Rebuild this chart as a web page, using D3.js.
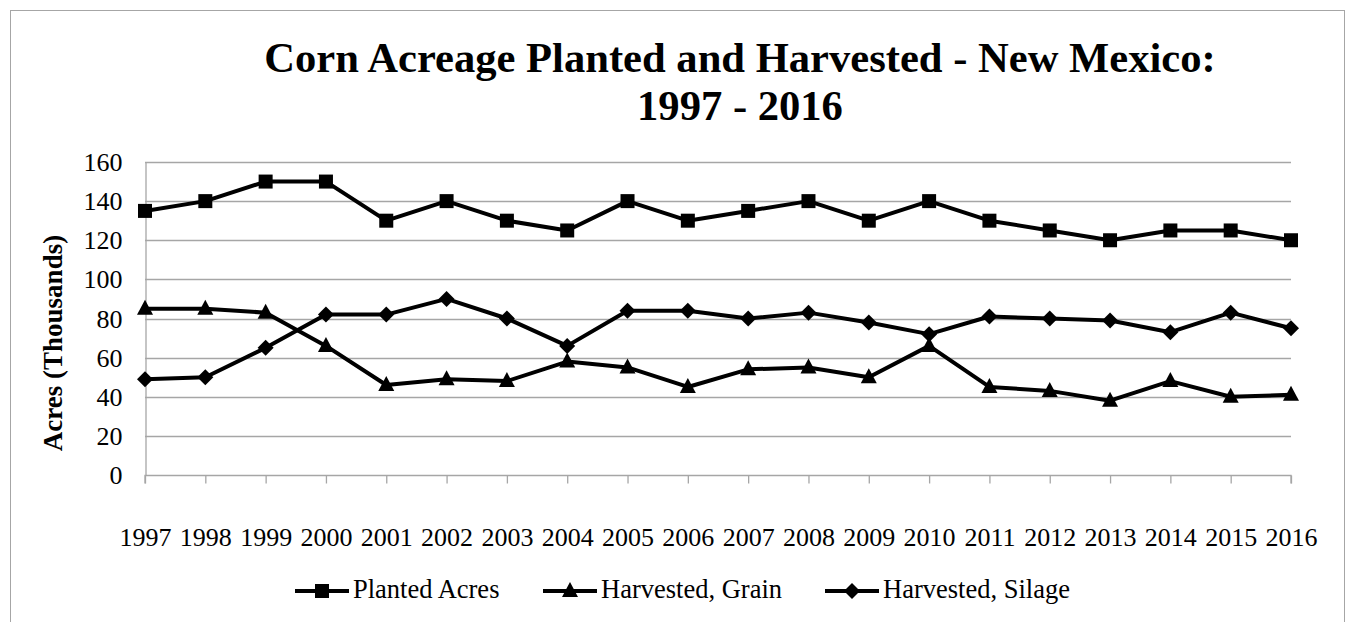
<!DOCTYPE html>
<html><head><meta charset="utf-8">
<script src="https://cdn.jsdelivr.net/npm/d3@7"></script>
<style>html,body{margin:0;padding:0;background:#fff;}svg{display:block;}</style>
</head><body>
<svg id="chart" width="1349" height="622"></svg>
<script>
const years = ["1997","1998","1999","2000","2001","2002","2003","2004","2005","2006","2007","2008","2009","2010","2011","2012","2013","2014","2015","2016"];
const planted = [135,140,150,150,130,140,130,125,140,130,135,140,130,140,130,125,120,125,125,120];
const grain   = [85,85,83,66,46,49,48,58,55,45,54,55,50,66,45,43,38,48,40,41];
const silage  = [49,50,65,82,82,90,80,66,84,84,80,83,78,72,81,80,79,73,83,75];
const yTicks = [0,20,40,60,80,100,120,140,160];
const seriesNames = ["Planted Acres","Harvested, Grain","Harvested, Silage"];
const markerTypes = ["square","triangle","diamond"];

const svg = d3.select("#chart");
const FONT = "'Liberation Serif','Times New Roman',serif";
const L = 145, R = 1291, T = 162, B = 475;

svg.append("rect").attr("x",10.5).attr("y",10.5).attr("width",1334).attr("height",700)
  .attr("fill","#fff").attr("stroke","#a6a6a6").attr("stroke-width",1);

const x = d3.scalePoint().domain(years).range([L,R]);
const y = d3.scaleLinear().domain([0,160]).range([B,T]);

// gridlines
svg.append("g").selectAll("line").data(yTicks.filter(d=>d>0)).join("line")
  .attr("x1",L).attr("x2",R).attr("y1",d=>Math.round(y(d))+0.5).attr("y2",d=>Math.round(y(d))+0.5)
  .attr("stroke","#a6a6a6").attr("stroke-width",1.3);

// y axis
const yAxis = d3.axisLeft(y).tickValues(yTicks).tickSize(0).tickPadding(23);
const gy = svg.append("g").attr("transform",`translate(${L+0.5},0)`).call(yAxis);
gy.select(".domain").attr("stroke","#a6a6a6").attr("stroke-width",1.3);
gy.selectAll("text").attr("font-family",FONT).attr("font-size",26).attr("fill","#000").attr("dy","0.33em");

// x axis
const xAxis = d3.axisBottom(x).tickSize(8).tickPadding(44);
const gx = svg.append("g").attr("transform",`translate(0,${Math.round(B)+0.5})`).call(xAxis);
gx.select(".domain").attr("stroke","#a6a6a6").attr("stroke-width",1.3).attr("d",`M${L},8V0H${R}V8`);
gx.selectAll(".tick line").attr("stroke","#a6a6a6").attr("stroke-width",1.3);
gx.selectAll("text").attr("font-family",FONT).attr("font-size",26).attr("fill","#000");

// title
const title = svg.append("text").attr("x",740).attr("text-anchor","middle")
  .attr("font-family",FONT).attr("font-weight","bold").attr("font-size",42.6).attr("fill","#000");
title.append("tspan").attr("x",740).attr("y",72).text("Corn Acreage Planted and Harvested - New Mexico:");
title.append("tspan").attr("x",740).attr("y",120).text("1997 - 2016");

// y label
svg.append("text").attr("transform","translate(62,343) rotate(-90)").attr("text-anchor","middle")
  .attr("font-family",FONT).attr("font-weight","bold").attr("font-size",27).attr("fill","#000")
  .text("Acres (Thousands)");

function marker(g, type, cx, cy){
  if(type==="square"){
    g.append("rect").attr("x",cx-7).attr("y",cy-7).attr("width",14).attr("height",14).attr("fill","#000");
  } else if(type==="triangle"){
    g.append("path").attr("d",`M${cx},${cy-9}L${cx+8},${cy+6}L${cx-8},${cy+6}Z`).attr("fill","#000");
  } else {
    g.append("path").attr("d",`M${cx},${cy-8}L${cx+8},${cy}L${cx},${cy+8}L${cx-8},${cy}Z`).attr("fill","#000");
  }
}

const allSeries = [planted, grain, silage];
const line = d3.line().x((d,i)=>x(years[i])).y(d=>y(d));
allSeries.forEach((vals,si)=>{
  const g = svg.append("g");
  g.append("path").datum(vals).attr("d",line).attr("fill","none").attr("stroke","#000")
    .attr("stroke-width",4).attr("stroke-linejoin","round");
  vals.forEach((v,i)=>marker(g, markerTypes[si], x(years[i]), y(v)));
});

// legend
const legendX = [295, 543, 825];
const legendY = 591;
seriesNames.forEach((name,i)=>{
  const g = svg.append("g");
  const lx = legendX[i];
  g.append("line").attr("x1",lx).attr("x2",lx+54).attr("y1",legendY).attr("y2",legendY)
    .attr("stroke","#000").attr("stroke-width",4);
  marker(g, markerTypes[i], lx+27, legendY);
  g.append("text").attr("x",lx+58).attr("y",598).attr("font-family",FONT).attr("font-size",26.5)
    .attr("fill","#000").text(name);
});
</script>
</body></html>
